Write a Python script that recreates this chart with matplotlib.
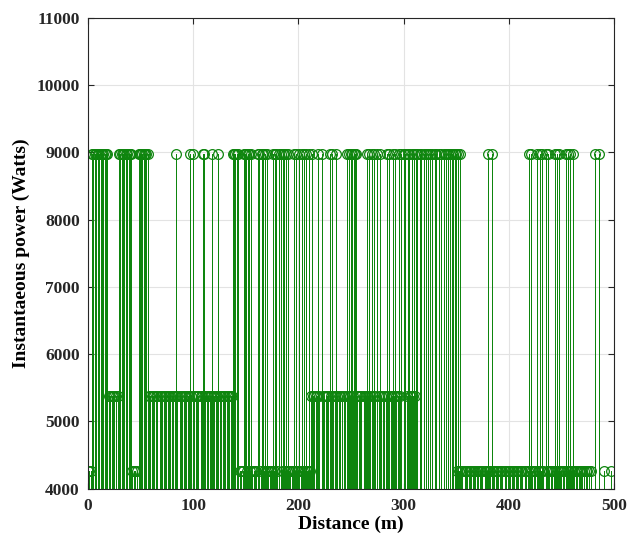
import numpy as np
import matplotlib
matplotlib.use('Agg')
import matplotlib.pyplot as plt

# power levels (W)
level_low = 4260
level_mid = 5380
level_high = 8970

# level per metre: L=low, M=mid, H=high, '.'=no sample
level_rows = [
    # 0-49
    "LL.LHH.HHH" "H.HHH.HHH." "MM.MMM.MMH" "H.HHH.HH.H" "HHL.LL.LHH",
    # 50-99
    "HH.HHH.HMM" ".MMM.MM.MM" "M.MMM.MMM." "MM.MHM.MMM" ".MMM.MMHM.",
    # 100-149
    "HM.MMM.MMH" "HM.MM.MMHM" "M.MMHMM.MM" "M.MMM.MMHH" "H.HHLL.LHH",
    # 150-199
    "HLHHLHL.LL" "L.HHLHHLHL" "HL.LLLHLHH" "L.HHLHHLHL" "HLL.LLHLHL",
    # 200-249
    "LHLHLHLHLL" "HLMHMM.MMH" "M.HMM.MMM." "HMHM.MHM.M" "MM.MM.HMHM",
    # 250-299
    "HHMHHHM.MM" "M.MMMHMHM." "HMHM.H.MHM" "MM.MHMH.MM" "HMHM.MHMH.",
    # 300-349
    "HH.MHHMMHM" "HMHH..HH.H" ".H.H.H.H.." "HH..H.H.H." "H.H.H.HH.H",
    # 350-399
    "HLHLHLL.LL" "L.LLL.LLL." "LL.LLL.LLL" "HLL.HLL.LL" "L.LLL.LL.L",
    # 400-449
    "LL.LLL.LLL" ".LLL.LL.LH" "LHL.LL.HLL" "HLHL.HLHL." "LL.LHLHLHL",
    # 450-499
    "L.LLHLHLHL" "LHL.LL.LLL" "L.LLL.L.L." "..H...H..." ".L.....L..",
]

level_values = {'L': level_low, 'M': level_mid, 'H': level_high}
codes = "".join(level_rows)
distance = [i for i, c in enumerate(codes) if c != '.']
power = [level_values[c] for c in codes if c != '.']

green = '#0e850e'

fig = plt.figure(figsize=(6.29, 5.40), dpi=100)
ax = fig.add_axes([0.140, 0.095, 0.836, 0.872])

markerline, stemlines, baseline = ax.stem(distance, power, bottom=0)
markerline.set_marker('o')
markerline.set_markerfacecolor('none')
markerline.set_markeredgecolor(green)
markerline.set_markersize(7)
markerline.set_markeredgewidth(0.9)
markerline.set_linestyle('none')
stemlines.set_color(green)
stemlines.set_linewidth(0.72)
stemlines.set_antialiased(False)
baseline.set_visible(False)

ax.set_xlim(0, 500)
ax.set_ylim(4000, 11000)
ax.set_xticks(np.arange(0, 501, 100))
ax.set_yticks(np.arange(4000, 11001, 1000))
ax.grid(True, color='#e3e3e3', linewidth=0.8)
ax.set_axisbelow(True)

font = {'family': 'Liberation Serif', 'weight': 'bold', 'size': 14}
ax.set_xlabel('Distance (m)', fontdict=font, labelpad=1)
ax.set_ylabel('Instantaeous power (Watts)', fontdict=font, labelpad=5)
for lab in ax.get_xticklabels() + ax.get_yticklabels():
    lab.set_family('Liberation Serif')
    lab.set_weight('bold')
    lab.set_size(12.5)
    lab.set_color('#262626')

ax.tick_params(direction='in', top=True, right=True, length=4, width=0.8,
               colors='#262626')
ax.tick_params(axis='x', pad=7)
ax.tick_params(axis='y', pad=6)
for s in ax.spines.values():
    s.set_color('#262626')
    s.set_linewidth(0.8)

fig.savefig('out.png', dpi=100)
